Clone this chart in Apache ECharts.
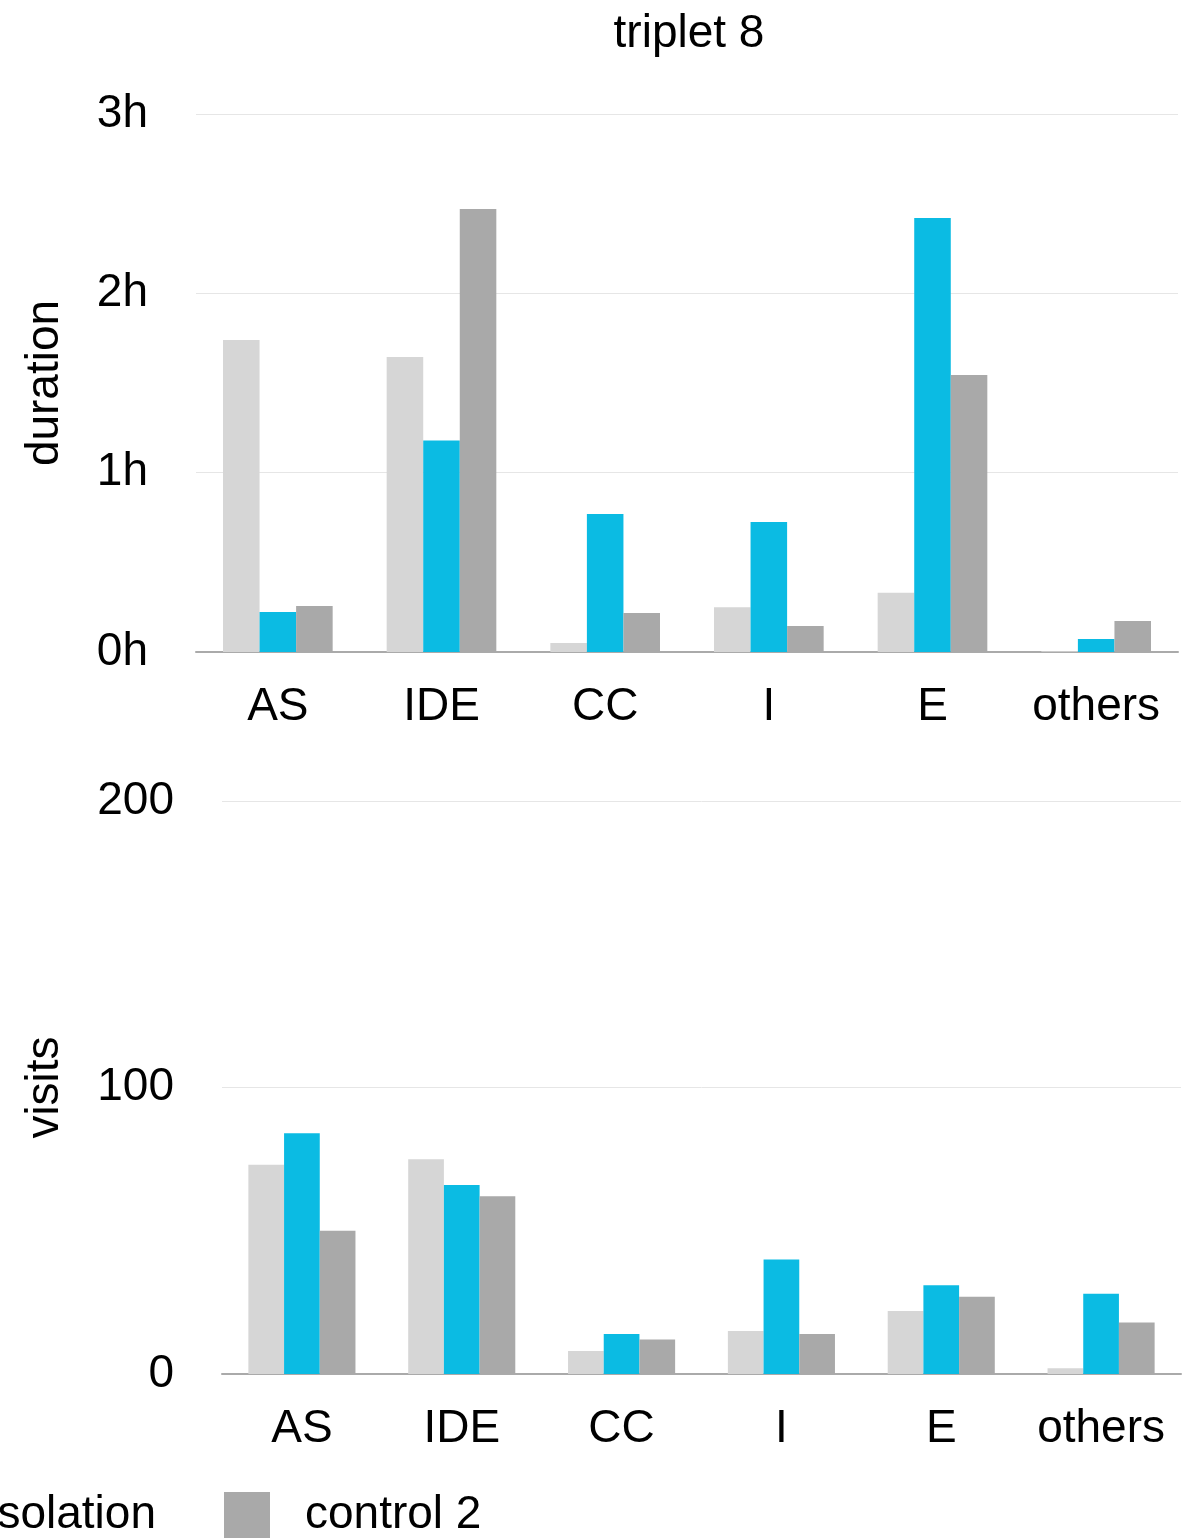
<!DOCTYPE html>
<html>
<head>
<meta charset="utf-8">
<script src="https://cdn.jsdelivr.net/npm/echarts@6/dist/echarts.min.js"></script>
<style>
html,body{margin:0;padding:0;background:#fff;}
#c{width:1186px;height:1539px;}
</style>
</head>
<body>
<div id="c"></div>
<script>
var categories = ['AS', 'IDE', 'CC', 'I', 'E', 'others'];
var seriesNames = ['control 1', 'isolation', 'control 2'];
// duration in hours
var durControl1 = [1.74, 1.645, 0.05, 0.25, 0.33, 0.004];
var durIsolation = [0.223, 1.18, 0.77, 0.725, 2.42, 0.072];
var durControl2 = [0.257, 2.47, 0.217, 0.145, 1.545, 0.173];
// visits
var visControl1 = [73, 75, 8, 15, 22, 2];
var visIsolation = [84, 66, 14, 40, 31, 28];
var visControl2 = [50, 62, 12, 14, 27, 18];
var durTicks = [0, 1, 2, 3];
var visTicks = [0, 100, 200];

var colors = ['#d6d6d6', '#0bbbe3', '#a9a9a9'];
var FONT = 'Liberation Sans, Helvetica, Arial, sans-serif';
var FS = 46;

var chart = echarts.init(document.getElementById('c'));

function xAxisCfg(gi) {
  return {
    type: 'category', gridIndex: gi, data: categories,
    axisLine: {lineStyle: {color: '#aaaaaa', width: 2}},
    axisTick: {show: false},
    axisLabel: {color: '#000', fontSize: FS, fontFamily: FONT, margin: 32, interval: 0}
  };
}
function yAxisCfg(gi, max, interval, name, fmt) {
  return {
    type: 'value', gridIndex: gi, min: 0, max: max, interval: interval,
    name: name, nameLocation: 'middle', nameGap: gi === 0 ? 128 : 154, nameRotate: 90,
    nameTextStyle: {color: '#000', fontSize: FS, fontFamily: FONT},
    axisLine: {show: false}, axisTick: {show: false},
    splitLine: {lineStyle: {color: '#e6e6e6', width: 1}},
    axisLabel: {color: '#000', fontSize: FS, fontFamily: FONT, margin: 48, formatter: fmt}
  };
}
function barSeries(name, data, xi, ci) {
  return {
    name: name, type: 'bar', xAxisIndex: xi, yAxisIndex: xi, data: data,
    barGap: '0%', barCategoryGap: '33%',
    itemStyle: {color: colors[ci]}
  };
}

chart.setOption({
  animation: false,
  color: colors,
  title: {
    text: 'triplet 8', left: 684, textAlign: 'center', top: 6,
    textStyle: {color: '#000', fontSize: FS, fontWeight: 'normal', fontFamily: FONT}
  },
  grid: [
    {left: 196, right: 8, top: 114, height: 538},
    {left: 222, right: 5, top: 801, height: 573}
  ],
  xAxis: [xAxisCfg(0), xAxisCfg(1)],
  yAxis: [
    yAxisCfg(0, durTicks[durTicks.length - 1], 1, 'duration', function (v) { return v + 'h'; }),
    yAxisCfg(1, visTicks[visTicks.length - 1], 100, 'visits', function (v) { return v; })
  ],
  legend: [
    {
      data: ['isolation'], right: 1030, top: 1492, padding: 0,
      itemWidth: 46, itemHeight: 46, icon: 'rect',
      textStyle: {color: '#000', fontSize: FS, fontFamily: FONT, padding: [0, 0, 0, 30]}
    },
    {
      data: ['control 2'], left: 224, top: 1492, padding: 0,
      itemWidth: 46, itemHeight: 46, icon: 'rect',
      textStyle: {color: '#000', fontSize: FS, fontFamily: FONT, padding: [0, 0, 0, 30]}
    }
  ],
  series: [
    barSeries('control 1', durControl1, 0, 0),
    barSeries('isolation', durIsolation, 0, 1),
    barSeries('control 2', durControl2, 0, 2),
    barSeries('control 1', visControl1, 1, 0),
    barSeries('isolation', visIsolation, 1, 1),
    barSeries('control 2', visControl2, 1, 2)
  ]
});
</script>
</body>
</html>
